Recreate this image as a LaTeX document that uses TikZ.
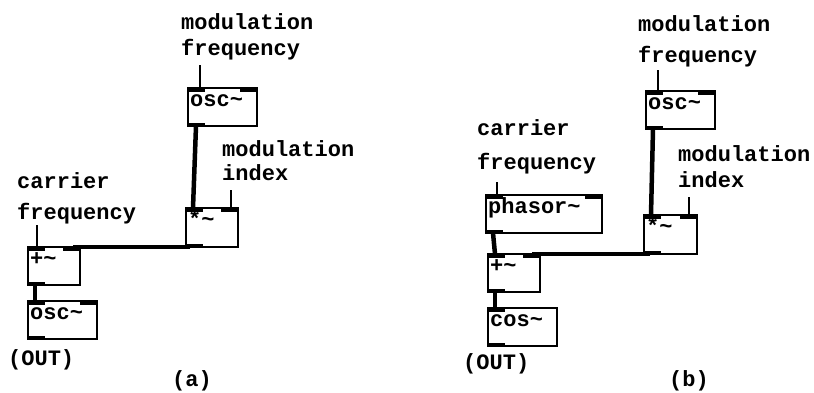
\documentclass[tikz,border=0pt]{standalone}
\usepackage{fontspec}
\setmonofont{Liberation Mono}
\usetikzlibrary{calc}

\newcommand{\pdfont}{\ttfamily\bfseries\fontsize{22}{22}\selectfont}

\begin{document}
\begin{tikzpicture}[
			x=1pt, y=-1pt,
			note/.style={font=\pdfont, align=left, anchor=north west, inner sep=0pt},
			tag/.style={font=\pdfont, anchor=base west, inner sep=0pt},
			boxtext/.style={font=\pdfont, anchor=north west, inner sep=2pt, text height=16pt},
			pdbox/.style={
				draw,
				line width=1.5pt,
				inner sep=0pt,
				outer sep=0pt,
				anchor=north west,
				minimum height=38pt,
				path picture={
					\draw[line width=7pt] (path picture bounding box.north west) -- ++(17pt,0pt);
					\draw[line width=7pt] (path picture bounding box.north east) -- ++(-17pt,0pt);
					\draw[line width=7pt] (path picture bounding box.south west) -- ++(17pt,0pt);
				}
			},
			pdboxone/.style={
				pdbox,
				path picture={
					\draw[line width=7pt] (path picture bounding box.north west) -- ++(17pt,0pt);
					\draw[line width=7pt] (path picture bounding box.south west) -- ++(17pt,0pt);
				}
			},
			signal/.style={line width=4.5pt},
			control/.style={line width=1.2pt}
			]
			
			\path[use as bounding box, fill=white] (0,0) rectangle (814,392);
			
			% (a)
			\node[note] (modfreqA) at (181,13) {modulation\\[4pt]frequency};
			\node[pdbox, minimum width=69pt, label={[boxtext]north west:osc\textasciitilde}] (oscA) at (188,88) {};
			\node[note] (modidxA) at (222,140) {modulation\\[2pt]index};
			\node[pdbox, minimum width=52pt, minimum height=39pt, label={[boxtext]north west:*\textasciitilde}] (mulA) at (186,208) {};
			\node[note] (carA) at (17,172) {carrier\\[9pt]frequency};
			\node[pdbox, minimum width=52pt, label={[boxtext]north west:+\textasciitilde}] (addA) at (28,247) {};
			\node[pdbox, minimum width=69pt, label={[boxtext]north west:osc\textasciitilde}] (carOscA) at (28,301) {};
			\node[tag] (outA) at (8,365) {(OUT)};
			\node[tag] (capA) at (172,386) {(a)};
			
			\coordinate (mfA) at (200,65);
			\coordinate (miA) at (231,190);
			\coordinate (cfA) at (37,225);
			
			\draw[control] (mfA) -- (mfA |- oscA.north);
			\draw[control] (miA) -- (miA |- mulA.north);
			\draw[control] (cfA) -- (cfA |- addA.north);
			
			\draw[signal] ($(oscA.south west)+(8,0)$) -- ($(mulA.north west)+(7,0)$);
			\draw[signal] ($(mulA.south west)+(4,0)$) -- ($(addA.north east)+(-7,0)$);
			\draw[signal] ($(addA.south west)+(7,0)$) -- ($(carOscA.north west)+(7,0)$);
			
			% (b)
			\node[note] (modfreqB) at (638,15) {modulation\\[9pt]frequency};
			\node[pdbox, minimum width=69pt, label={[boxtext]north west:osc\textasciitilde}] (oscB) at (646,91) {};
			\node[note] (modidxB) at (678,145) {modulation\\[4pt]index};
			\node[pdbox, minimum width=53pt, minimum height=39pt, label={[boxtext]north west:*\textasciitilde}] (mulB) at (644,215) {};
			\node[note] (carB) at (477,119) {carrier\\[12pt]frequency};
			\node[pdbox, minimum width=116pt, label={[boxtext]north west:phasor\textasciitilde}] (phsB) at (486,195) {};
			\node[pdbox, minimum width=52pt, label={[boxtext]north west:+\textasciitilde}] (addB) at (488,254) {};
			\node[pdboxone, minimum width=69pt, label={[boxtext]north west:cos\textasciitilde}] (cosB) at (488,308) {};
			\node[tag] (outB) at (463,369) {(OUT)};
			\node[tag] (capB) at (669,386) {(b)};
			
			\coordinate (mfB) at (658,70);
			\coordinate (miB) at (689,197);
			\coordinate (cfB) at (497,182);
			
			\draw[control] (mfB) -- (mfB |- oscB.north);
			\draw[control] (miB) -- (miB |- mulB.north);
			\draw[control] (cfB) -- (cfB |- phsB.north);
			
			\draw[signal] ($(oscB.south west)+(7,0)$) -- ($(mulB.north west)+(7,0)$);
			\draw[signal] ($(mulB.south west)+(6,0)$) -- ($(addB.north east)+(-8,0)$);
			\draw[signal] ($(phsB.south west)+(7,0)$) -- ($(addB.north west)+(7,0)$);
			\draw[signal] ($(addB.south west)+(7,0)$) -- ($(cosB.north west)+(7,0)$);
			
		\end{tikzpicture}
\end{document}
